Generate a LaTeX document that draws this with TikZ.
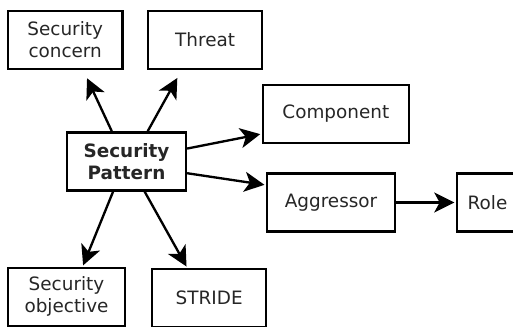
\documentclass[tikz,border=0pt]{standalone}
\usepackage{fontspec}
\setmainfont{DejaVu Sans}
\usetikzlibrary{positioning, arrows.meta}

\begin{document}
\begin{tikzpicture}[
				shorten >=1pt, on grid,
				line width=1.75pt, >={Stealth[length=15pt, width=15pt, inset=4pt]},
				box/.style={draw, line width=1.9pt, minimum height=43.5pt, align=center,
					inner sep=2pt, text=black!85, font=\fontsize{13.8}{16.5}\selectfont}
				]
				\useasboundingbox (-94.9pt,-124.1pt) rectangle (289.9pt,121.1pt);
				\node[box, minimum width=89pt, font=\fontsize{13.8}{16.5}\selectfont\bfseries] (pat) {Security\\Pattern};
				\node[box, minimum width=86pt] (conc) [above left=91pt and 46pt of pat] {Security\\concern};
				\node[box, minimum width=85.5pt] (thr) [above right=91pt and 59pt of pat] {Threat};
				\node[box, minimum width=109.5pt] (comp) [above right=35.6pt and 157pt of pat] {Component};
				\node[box, minimum width=96pt] (agg) [below right=30.8pt and 153.4pt of pat] {Aggressor};
				\node[box, minimum width=46pt] (role) [right=117.4pt of agg] {Role};
				\node[box, minimum width=88pt] (obj) [below left=101.6pt and 45pt of pat] {Security\\objective};
				\node[box, minimum width=85.5pt] (str) [below right=102.4pt and 62pt of pat] {STRIDE};
				\path[->]
				(pat.116) edge [shorten >=6.5pt] (conc.301)
				(pat.55) edge [shorten >=6.5pt] (thr.232)
				(pat.12) edge (comp.195)
				(pat.349) edge (agg.165)
				(pat.246) edge (obj.62)
				(pat.301) edge (str.126)
				(agg) edge (role);
			\end{tikzpicture}
\end{document}
